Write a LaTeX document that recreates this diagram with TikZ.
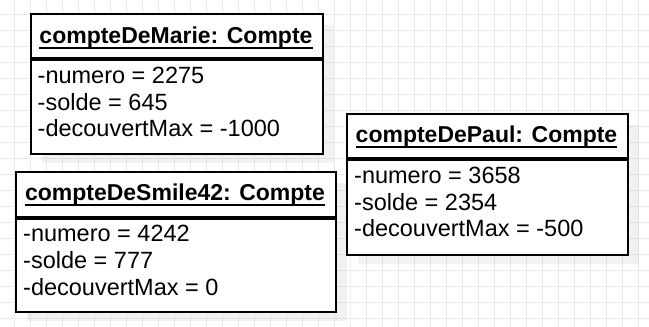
\documentclass[tikz,border=0pt]{standalone}
\usepackage{fontspec}
\setmainfont{Liberation Sans}
\begin{document}
\begin{tikzpicture}[x=1pt,y=-1pt,
  gridline/.style={draw=black!8,line width=1pt},
  shadowbox/.style={fill=black,fill opacity=0.05},
  hdr/.style={draw=black,fill=white,line width=2pt,anchor=north west,inner sep=0pt,minimum height=44.6pt},
  bdy/.style={draw=black,fill=white,line width=2pt,anchor=north west,inner sep=0pt,minimum height=93.6pt},
  title/.style={anchor=base,inner sep=0pt,font=\fontsize{23}{27}\selectfont\bfseries},
  attr/.style={anchor=base west,inner sep=0pt,font=\fontsize{23.5}{27}\selectfont},
  uline/.style={line width=1.8pt}]
\useasboundingbox (0,0) rectangle (649,327);
% background grid
\begin{scope}
\clip (0,0) rectangle (649,327);
\fill[white] (0,0) rectangle (649,327);
\foreach \i in {0,...,39} \draw[gridline] (14+16*\i,0) -- (14+16*\i,327);
\foreach \j in {0,...,19} \draw[gridline] (0,14+16*\j) -- (649,14+16*\j);
\end{scope}

% object compteDeMarie
\fill[shadowbox] (42,25) rectangle ++(292,138);
\node[hdr,minimum width=292pt] (marieH) at (30,12.7) {};
\node[bdy,minimum width=292pt] (marieB) at (marieH.south west) {};
\node[title] (marieT) at (176,43.3) {compteDeMarie: Compte};
\draw[uline] ([yshift=-5pt]marieT.base west) -- ([yshift=-5pt]marieT.base east);
\node[attr] (marieA1) at (37.5,83.3) {-numero = 2275};
\node[attr] (marieA2) at (37.5,110) {-solde = 645};
\node[attr] (marieA3) at (37.5,136.7) {-decouvertMax = -1000};

% object compteDePaul
\fill[shadowbox] (358,125) rectangle ++(281,139);
\node[hdr,minimum width=281pt] (paulH) at (346,112.7) {};
\node[bdy,minimum width=281pt,minimum height=94.4pt] (paulB) at (paulH.south west) {};
\node[title] (paulT) at (486.5,142) {compteDePaul: Compte};
\draw[uline] ([yshift=-5pt]paulT.base west) -- ([yshift=-5pt]paulT.base east);
\node[attr] (paulA1) at (354,183) {-numero = 3658};
\node[attr] (paulA2) at (354,210) {-solde = 2354};
\node[attr] (paulA3) at (354,236.7) {-decouvertMax = -500};

% object compteDeSmile42
\fill[shadowbox] (27,183) rectangle ++(320,138);
\node[hdr,minimum width=320pt] (smileH) at (15,171) {};
\node[bdy,minimum width=320pt] (smileB) at (smileH.south west) {};
\node[title] (smileT) at (175,200) {compteDeSmile42: Compte};
\draw[uline] ([yshift=-5pt]smileT.base west) -- ([yshift=-5pt]smileT.base east);
\node[attr] (smileA1) at (23,241.7) {-numero = 4242};
\node[attr] (smileA2) at (23,268.3) {-solde = 777};
\node[attr] (smileA3) at (23,295) {-decouvertMax = 0};
\end{tikzpicture}
\end{document}
